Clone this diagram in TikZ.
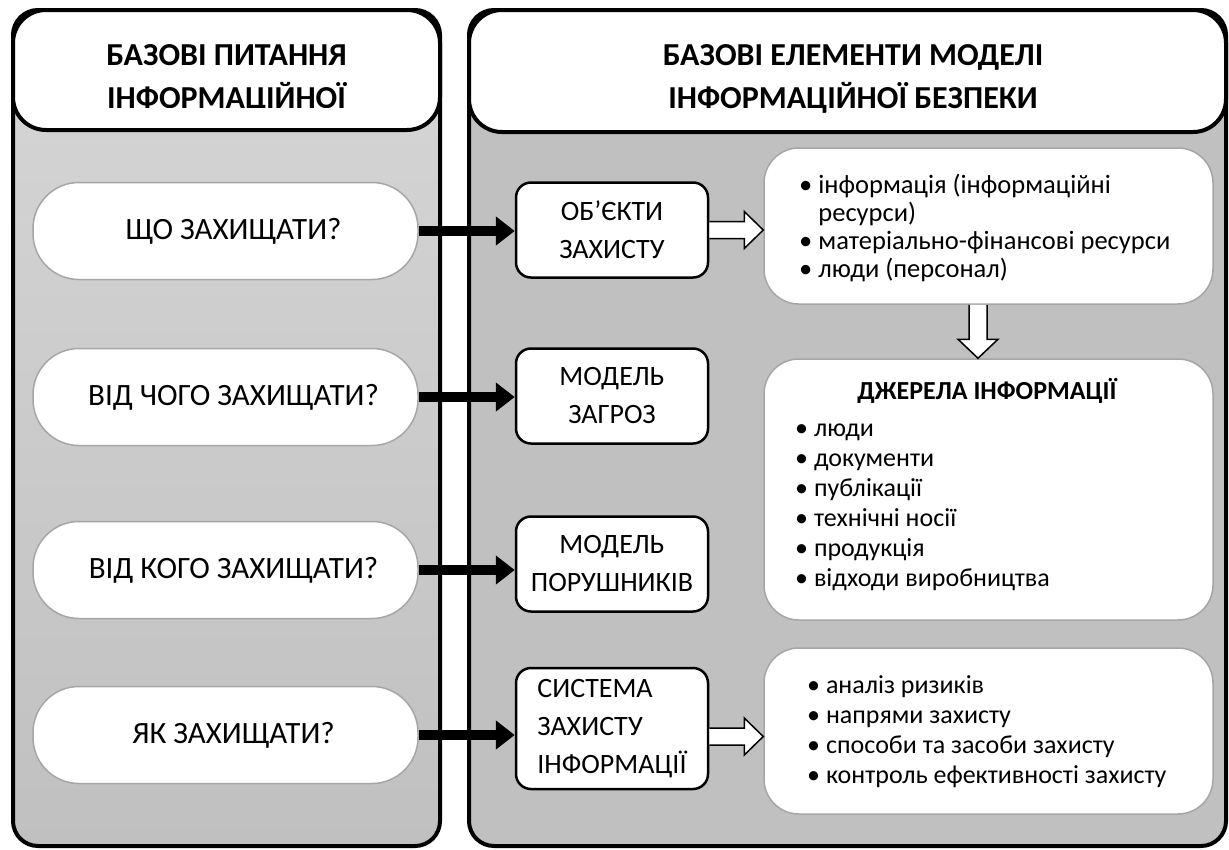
\documentclass[tikz,border=0pt]{standalone}
\usepackage{fontspec}
\setmainfont{Carlito}
\usetikzlibrary{arrows.meta,calc}

\definecolor{panelgray}{HTML}{C0C0C0}
\definecolor{paneltop}{HTML}{D6D6D6}
\definecolor{boxline}{HTML}{A6A6A6}

\tikzset{
  panel/.style={draw=black, line width=4pt, rounded corners=25pt},
  header/.style={draw=black, fill=white, line width=4pt, rounded corners=33pt},
  headtitle/.style={align=center, inner sep=0pt, font=\fontsize{32}{43}\selectfont\bfseries},
  question/.style={draw=boxline, line width=1.5pt, fill=white, rounded corners=46pt,
    minimum width=385pt, minimum height=97pt, font=\fontsize{31}{36}\selectfont,
    execute at begin node=\hspace*{16pt}},
  element/.style={draw=black, line width=2.5pt, fill=white, rounded corners=15pt,
    minimum width=192pt, minimum height=95pt, align=center, font=\fontsize{28}{38}\selectfont},
  infobox/.style={draw=boxline, line width=1.5pt, fill=white, rounded corners=35pt, minimum width=449pt},
  listtext/.style={align=left, inner sep=0pt, anchor=north west, font=\fontsize{26}{30}\selectfont},
  bigarrow/.style={line width=10pt, -{Triangle[length=19pt,width=28pt]}},
  hollow/.style={draw=black, line width=1.5pt, fill=white, line join=miter},
}

% hollow block arrows between boxes
\newcommand{\hollowright}[2]{%
  \draw[hollow] let \p1=(#1), \p2=(#2) in
    (\x1,\y1+8.5pt) -- (\x2-19pt,\y1+8.5pt) -- (\x2-19pt,\y1+18.5pt) -- (\x2,\y1)
    -- (\x2-19pt,\y1-18.5pt) -- (\x2-19pt,\y1-8.5pt) -- (\x1,\y1-8.5pt);}
\newcommand{\hollowdown}[2]{%
  \draw[hollow] let \p1=(#1), \p2=(#2) in
    (\x1-9pt,\y1) -- (\x1-9pt,\y2+19pt) -- (\x1-20pt,\y2+19pt) -- (\x1,\y2)
    -- (\x1+20pt,\y2+19pt) -- (\x1+9pt,\y2+19pt) -- (\x1+9pt,\y1);}

\begin{document}
\begin{tikzpicture}[x=1pt,y=-1pt]
  \useasboundingbox (0,0) rectangle (1229,849);

  % panels
  \draw[panel, top color=paneltop, bottom color=panelgray] (13,10) rectangle (440,846);
  \draw[panel, fill=panelgray] (469,10) rectangle (1226,846);
  \draw[header] (13,10) rectangle (440,130);
  \draw[header] (469,10) rectangle (1226,132);

  \begin{scope}
    \clip (13,10) rectangle (440,107.5);
    \node[headtitle, anchor=north] (lefttitle) at (226.5,34.9) {\strut БАЗОВІ ПИТАННЯ\\ІНФОРМАЦІЙНОЇ};
  \end{scope}
  \node[headtitle, anchor=north] (righttitle) at (853,34.9) {\strut БАЗОВІ ЕЛЕМЕНТИ МОДЕЛІ\\ІНФОРМАЦІЙНОЇ БЕЗПЕКИ};

  % questions
  \node[question] (q1) at (225.5,231) {ЩО ЗАХИЩАТИ?};
  \node[question] (q2) at (225.5,397) {ВІД ЧОГО ЗАХИЩАТИ?};
  \node[question] (q3) at (225.5,570) {ВІД КОГО ЗАХИЩАТИ?};
  \node[question] (q4) at (225.5,735) {ЯК ЗАХИЩАТИ?};

  % model elements
  \node[element] (e1) at (612,230) {ОБ’ЄКТИ\\ЗАХИСТУ};
  \node[element] (e2) at (612,396) {МОДЕЛЬ\\ЗАГРОЗ};
  \node[element] (e3) at (612,564) {МОДЕЛЬ\\ПОРУШНИКІВ};
  \node[element, align=left, minimum height=121pt] (e4) at (612,728.5) {СИСТЕМА\\ЗАХИСТУ\\ІНФОРМАЦІЇ};

  % details
  \node[infobox, minimum height=156pt] (objects) at (988.5,226) {};
  \node[infobox, minimum height=261pt] (sources) at (988.5,489.5) {};
  \node[infobox, minimum height=166pt] (measures) at (988.5,731) {};

  \node[listtext, font=\fontsize{26.5}{28}\selectfont] (objlist) at (799,173.4)
    {\strut\textbullet\ інформація (інформаційні\\\hphantom{\textbullet\ }ресурси)\\
     \textbullet\ матеріально-фінансові ресурси\\\textbullet\ люди (персонал)};
  \node[font=\fontsize{26}{30}\selectfont\bfseries, anchor=base] (srctitle) at (987,399) {ДЖЕРЕЛА ІНФОРМАЦІЇ};
  \node[listtext] (srclist) at (795,415)
    {\strut\textbullet\ люди\\\textbullet\ документи\\\textbullet\ публікації\\
     \textbullet\ технічні носії\\\textbullet\ продукція\\\textbullet\ відходи виробництва};
  \node[listtext] (measlist) at (807,672)
    {\strut\textbullet\ аналіз ризиків\\\textbullet\ напрями захисту\\
     \textbullet\ способи та засоби захисту\\\textbullet\ контроль ефективності захисту};

  % connectors
  \foreach \i in {1,...,4}
    \draw[bigarrow] (q\i.east) -- (q\i.east -| e\i.west);
  \hollowright{e1.east}{objects.west}
  \hollowright{$(e4.east)+(0,8)$}{measures.west}
  \hollowdown{$(objects.south)+(-10.5,0)$}{sources.north}
\end{tikzpicture}
\end{document}
